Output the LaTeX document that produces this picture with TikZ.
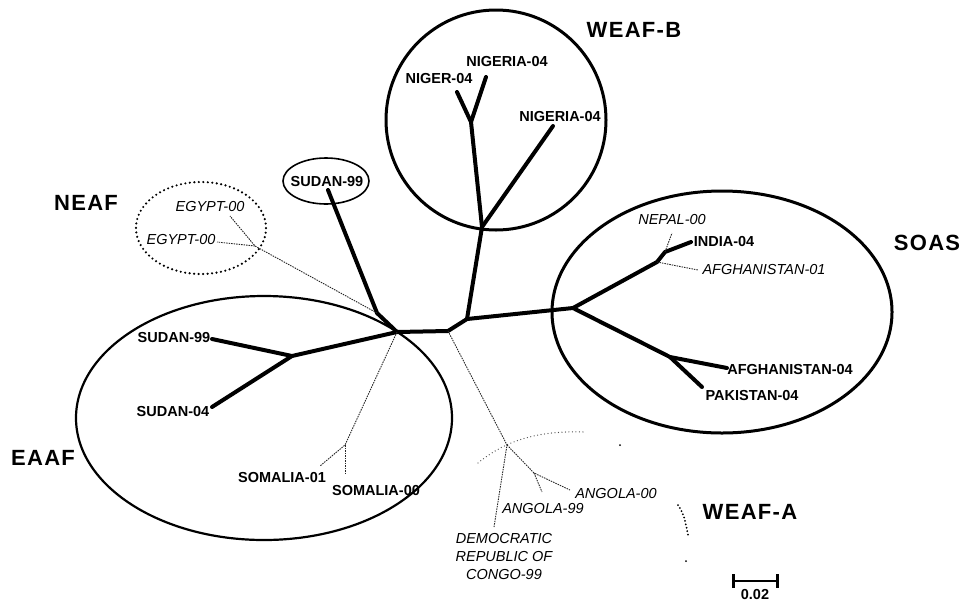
\documentclass[tikz,border=0pt]{standalone}
\usepackage{fontspec}
\setmainfont{Liberation Sans}
\newfontfamily\cladefont{Liberation Sans}[LetterSpace=6]
\usetikzlibrary{arrows}

\begin{document}
\begin{tikzpicture}[x=1pt,y=-1pt]
\tikzset{every node/.style={inner sep=1pt}}
\tikzset{leaf/.style={font=\bfseries\fontsize{14.5}{16}\selectfont}}
\tikzset{weakleaf/.style={font=\itshape\fontsize{14.5}{18}\selectfont,align=center}}
\tikzset{clade/.style={font=\cladefont\bfseries\fontsize{22}{26}\selectfont}}
\tikzset{branch/.style={line width=4pt,line cap=round,line join=round}}
\tikzset{weak/.style={line width=0.9pt,dash pattern=on 1.5pt off 1pt,black!85}}
\tikzset{speck/.style={line width=2pt,dash pattern=on 0pt off 3.5pt,line cap=round}}

\useasboundingbox (0,0) rectangle (963,603);

% junctions
\coordinate (hub) at (397,332);
\coordinate (b) at (448,331);
\coordinate (c) at (467,319);
\coordinate (w1) at (482,227);
\coordinate (w2) at (471,122);
\coordinate (s1) at (573,308);
\coordinate (s2) at (657,262);
\coordinate (s3) at (665,252);
\coordinate (s4) at (670,357);
\coordinate (l1) at (292,356);
\coordinate (j1) at (377,313);
\coordinate (e1) at (255,246);
\coordinate (so1) at (345,445);
\coordinate (an1) at (507,445);
\coordinate (an2) at (534,473);

% tips
\coordinate (tNiger) at (457,92);
\coordinate (tNigA) at (486,77);
\coordinate (tNigB) at (553,126);
\coordinate (tIndia) at (691,242);
\coordinate (tNepal) at (672,233);
\coordinate (tAfgA) at (698,270);
\coordinate (tAfgB) at (727,368);
\coordinate (tPak) at (702,387);
\coordinate (tSudA) at (328,190);
\coordinate (tSudB) at (212,339);
\coordinate (tSudC) at (212,407);
\coordinate (tSomA) at (320,466);
\coordinate (tSomB) at (345,473);
\coordinate (tEgA) at (230,216);
\coordinate (tEgB) at (217,242);
\coordinate (tAngA) at (570,490);
\coordinate (tAngB) at (542,492);
\coordinate (tDrc) at (494,527);

% groups
\draw[line width=3pt] (496,120) circle [radius=110pt];
\draw[line width=3pt] (722,312) ellipse [x radius=170pt, y radius=121pt];
\draw[line width=2.2pt] (264,418) ellipse [x radius=188pt, y radius=122pt];
\draw[line width=1.6pt] (326,181) ellipse [x radius=43pt, y radius=23pt];
\draw[line width=2.4pt,dash pattern=on 0pt off 4.5pt,line cap=round] (201,228) ellipse [x radius=65pt, y radius=46pt];
\draw[speck,line width=1.3pt,black!70] (478,463) .. controls (500,445) and (530,430) .. (585,432);
\draw[speck] (678,505) .. controls (684,515) .. (688,535);
\draw[speck] (620,445) -- (621,445);
\draw[speck] (686,561) -- (686,562);

% tree
\draw[branch] (hub) -- (b) -- (c) -- (w1) -- (w2) -- (tNiger);
\draw[branch] (w2) -- (tNigA);
\draw[branch] (w1) -- (tNigB);
\draw[branch] (c) -- (s1) -- (s2) -- (s3) -- (tIndia);
\draw[branch] (s1) -- (s4) -- (tAfgB);
\draw[branch] (s4) -- (tPak);
\draw[branch] (hub) -- (l1) -- (tSudB);
\draw[branch] (l1) -- (tSudC);
\draw[branch] (hub) -- (j1) -- (tSudA);
\draw[weak] (j1) -- (e1) -- (tEgA);
\draw[weak] (e1) -- (tEgB);
\draw[weak] (hub) -- (so1) -- (tSomA);
\draw[weak] (so1) -- (tSomB);
\draw[weak] (b) -- (an1) -- (tDrc);
\draw[weak] (an1) -- (an2) -- (tAngA);
\draw[weak] (an2) -- (tAngB);
\draw[weak] (s3) -- (tNepal);
\draw[weak] (s2) -- (tAfgA);

% labels
\node[leaf] (nigA) at (507,62) {NIGERIA-04};
\node[leaf] (niger) at (439,79) {NIGER-04};
\node[leaf] (nigB) at (560,117) {NIGERIA-04};
\node[weakleaf] (nepal) at (672,220) {NEPAL-00};
\node[leaf] (india) at (724,242) {INDIA-04};
\node[weakleaf] (afgA) at (764,270) {AFGHANISTAN-01};
\node[leaf] (afgB) at (790,369) {AFGHANISTAN-04};
\node[leaf] (pak) at (752,395) {PAKISTAN-04};
\node[leaf] (sudA) at (327,182) {SUDAN-99};
\node[leaf] (sudB) at (174,338) {SUDAN-99};
\node[leaf] (sudC) at (173,411) {SUDAN-04};
\node[leaf] (somA) at (282,477) {SOMALIA-01};
\node[leaf] (somB) at (376,490) {SOMALIA-00};
\node[weakleaf] (egA) at (210,207) {EGYPT-00};
\node[weakleaf] (egB) at (181,240) {EGYPT-00};
\node[weakleaf] (angA) at (616,493) {ANGOLA-00};
\node[weakleaf] (angB) at (543,508) {ANGOLA-99};
\node[weakleaf] (drc) at (504,556) {DEMOCRATIC\\REPUBLIC OF\\CONGO-99};

\node[clade] (neaf) at (86,203) {NEAF};
\node[clade] (eaaf) at (43,458) {EAAF};
\node[clade] (soas) at (927,243) {SOAS};
\node[clade] (weafB) at (634,30) {WEAF-B};
\node[clade] (weafA) at (750,512) {WEAF-A};

% scale
\coordinate (sbL) at (732,581);
\coordinate (sbR) at (779,581);
\draw[line width=2.6pt,|-|] (sbL) -- (sbR);
\node[leaf] (scale) at (755,594) {0.02};

\end{tikzpicture}
\end{document}
